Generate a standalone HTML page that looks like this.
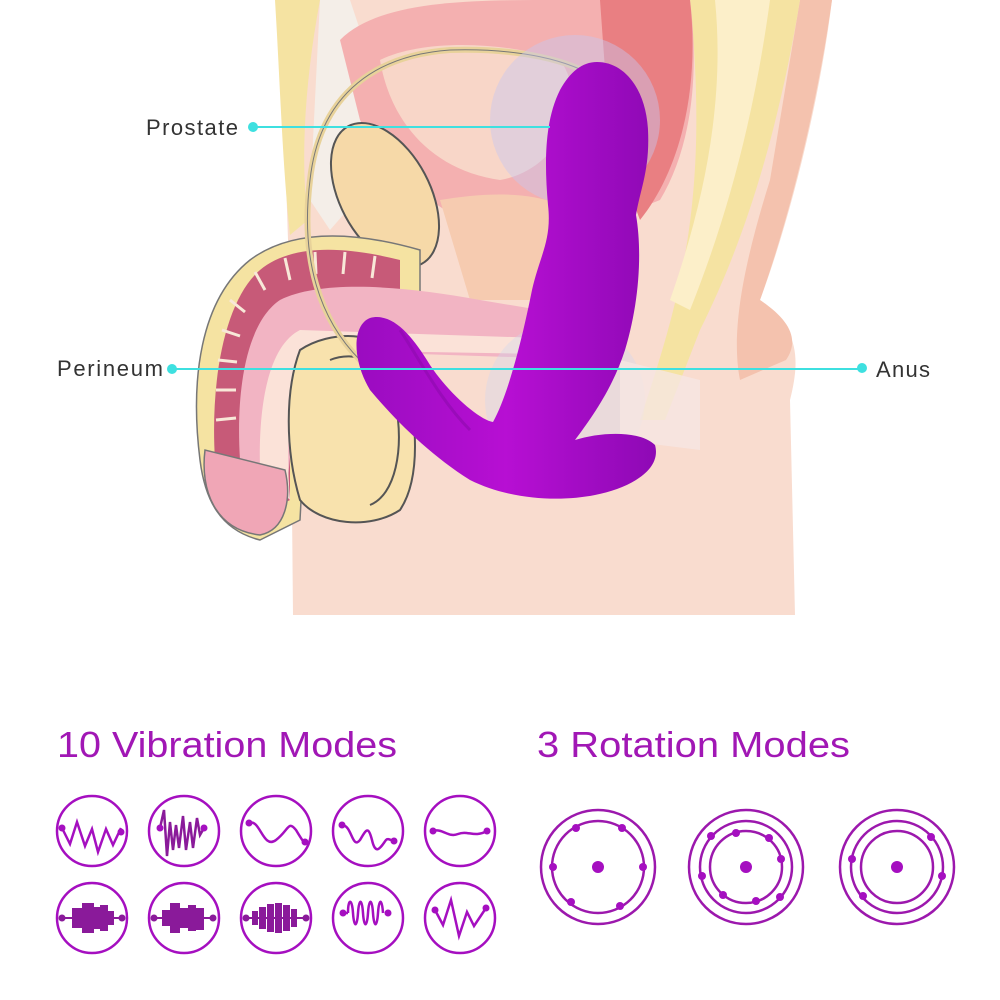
<!DOCTYPE html>
<html><head><meta charset="utf-8"><style>
html,body{margin:0;padding:0;background:#fff;}
svg{display:block}
text{font-family:"Liberation Sans",sans-serif}
</style></head><body>
<svg width="1000" height="1000" viewBox="0 0 1000 1000" xmlns="http://www.w3.org/2000/svg">
<!-- body skin -->
<path d="M275 0 L832 0 C820 100 790 220 760 300 C800 330 800 360 790 400 L795 615 L293 615 L290 300 L280 0 Z" fill="#f9dccf"/>
<!-- right back / buttock darker -->
<path d="M800 0 L832 0 C815 120 785 230 760 300 C790 320 800 340 786 360 L740 380 C730 330 745 260 770 180 Z" fill="#f4c2ae"/>
<!-- spine yellow band -->
<path d="M690 0 L800 0 C780 120 750 230 700 330 L665 420 L640 420 C680 300 710 200 690 0 Z" fill="#f5e3a2"/>
<path d="M715 0 L770 0 C755 110 730 210 690 310 L670 300 C705 200 725 100 715 0 Z" fill="#fcefc9"/>
<!-- left yellow band -->
<path d="M275 0 L320 0 C305 80 300 160 308 220 L290 235 C282 160 280 80 275 0 Z" fill="#f5e3a2"/>
<path d="M320 0 L350 0 L400 150 L330 230 L310 200 Z" fill="#f4eee8"/>
<!-- bladder/rectum pink top -->
<path d="M340 40 C380 0 470 0 560 0 L690 0 C700 80 690 150 660 200 L560 240 C480 250 400 190 360 120 Z" fill="#f4b0b0"/>
<path d="M380 60 C420 40 500 40 560 60 C590 100 560 170 500 180 C430 170 390 120 380 60 Z" fill="#f8d6c8"/>
<path d="M600 0 L690 0 C700 90 680 170 640 220 L610 140 Z" fill="#e97f82"/>
<!-- seminal vesicle -->
<ellipse cx="385" cy="195" rx="45" ry="78" transform="rotate(-28 385 195)" fill="#f6d9a8" stroke="#555" stroke-width="2"/>
<!-- prostate tissue -->
<path d="M440 200 C500 190 560 190 600 230 L590 300 L470 300 Z" fill="#f6cbb0"/>
<!-- penis shaft -->
<path d="M200 460 C190 380 200 300 250 260 C290 230 350 230 420 250 L420 330 L310 330 L300 520 L260 540 C220 530 205 500 200 460 Z" fill="#f5e3a2" stroke="#777" stroke-width="1.5"/>
<path d="M215 460 C210 380 225 300 260 270 C290 245 340 245 400 260 L400 320 L290 320 L290 500 L250 520 Z" fill="#c75a78"/>
<g stroke="#f8e8d8" stroke-width="3">
<line x1="230" y1="300" x2="245" y2="312"/><line x1="222" y1="330" x2="240" y2="336"/><line x1="218" y1="360" x2="237" y2="362"/><line x1="216" y1="390" x2="236" y2="390"/><line x1="216" y1="420" x2="236" y2="418"/>
<line x1="255" y1="272" x2="265" y2="290"/><line x1="285" y1="258" x2="290" y2="280"/><line x1="315" y1="252" x2="316" y2="274"/><line x1="345" y1="252" x2="343" y2="274"/><line x1="375" y1="256" x2="372" y2="278"/>
</g>
<path d="M240 460 C235 380 250 320 280 300 C320 280 400 285 480 300 L600 320 L600 360 L300 350 L285 510 Z" fill="#f2b4c3"/>
<path d="M260 470 C258 400 270 345 300 330 L600 340 L600 355 L310 350 C290 380 285 440 290 500 Z" fill="#fbe2d8"/>
<!-- glans -->
<path d="M205 450 C200 490 215 530 260 535 C285 530 292 500 285 470 Z" fill="#f0a6b6" stroke="#777" stroke-width="1.5"/>
<!-- testicle -->
<path d="M300 350 C330 330 380 330 400 360 C420 420 420 480 400 510 C370 530 320 525 300 500 C285 450 285 390 300 350 Z" fill="#f8e2ad" stroke="#555" stroke-width="2"/>
<path d="M330 360 C355 350 385 360 395 400 C405 450 395 495 370 505" fill="none" stroke="#555" stroke-width="2"/>
<!-- vas deferens loop -->
<path d="M360 360 C320 320 300 260 310 180 C320 90 380 55 450 50 C520 48 570 60 600 80" fill="none" stroke="#e8d29a" stroke-width="6"/>
<path d="M360 360 C320 320 300 260 310 180 C320 90 380 55 450 50 C520 48 570 60 600 80" fill="none" stroke="#777" stroke-width="1"/>
<!-- blue ghost circles -->
<circle cx="575" cy="120" r="85" fill="#c8c8ef" opacity="0.45"/>
<circle cx="565" cy="400" r="80" fill="#cdd6f2" opacity="0.35"/>
<!-- fade near anus -->
<path d="M620 360 L700 380 L700 450 L620 440 Z" fill="#f6e6e2" opacity="0.8"/>
<!-- device -->
<defs><linearGradient id="g" x1="0" x2="1" y1="0" y2="0"><stop offset="0" stop-color="#9a0cc0"/><stop offset="0.5" stop-color="#b70fd3"/><stop offset="1" stop-color="#8e09b5"/></linearGradient></defs>
<path d="M597 62 C625 62 646 90 648 130 C650 170 640 190 636 215 C642 250 640 300 625 350 C612 390 590 420 575 440 C600 432 640 430 655 445 C662 470 630 488 595 495 C560 502 510 500 470 480 C430 455 395 420 370 390 C352 360 352 325 370 318 C392 312 412 335 430 365 C450 395 480 420 493 422 C508 395 522 340 532 290 C540 255 552 240 548 205 C544 160 545 120 560 90 C570 72 582 62 597 62 Z" fill="url(#g)"/>
<path d="M400 330 C420 360 440 400 470 430" fill="none" stroke="#8e0aae" stroke-width="3" opacity="0.6"/>
<!-- leader lines -->
<line x1="253" y1="127" x2="550" y2="127" stroke="#3ee0e0" stroke-width="2"/>
<circle cx="253" cy="127" r="5" fill="#3ee0e0"/>
<line x1="172" y1="369" x2="862" y2="369" stroke="#3ee0e0" stroke-width="2"/>
<circle cx="172" cy="369" r="5" fill="#3ee0e0"/>
<circle cx="862" cy="368" r="5" fill="#3ee0e0"/>
<text x="146" y="135" font-size="22" fill="#333" textLength="92">Prostate</text>
<text x="57" y="376" font-size="22" fill="#333" textLength="106">Perineum</text>
<text x="876" y="377" font-size="22" fill="#333" textLength="54">Anus</text>
<!-- headings -->
<text x="57" y="757" font-size="36" fill="#a117b5" textLength="340" lengthAdjust="spacingAndGlyphs">10 Vibration Modes</text>
<text x="537" y="757" font-size="36" fill="#a117b5" textLength="313" lengthAdjust="spacingAndGlyphs">3 Rotation Modes</text>
<!-- vibration icons -->
<g fill="none" stroke="#a50fc0" stroke-width="2.5">
<circle cx="92" cy="831" r="35"/><circle cx="184" cy="831" r="35"/><circle cx="276" cy="831" r="35"/><circle cx="368" cy="831" r="35"/><circle cx="460" cy="831" r="35"/>
<circle cx="92" cy="918" r="35"/><circle cx="184" cy="918" r="35"/><circle cx="276" cy="918" r="35"/><circle cx="368" cy="918" r="35"/><circle cx="460" cy="918" r="35"/>
<polyline points="62,828 70,844 77,822 85,846 92,829 98,852 106,829 113,845 121,828"/>
<polyline points="160,828 164,810 167,856 170,822 173,850 176,825 179,848 183,816 186,850 190,822 193,848 197,818 200,835 204,828" stroke="#8a1a9a"/>
<path d="M249 823 C260 818 263 850 276 840 C289 830 288 820 296 830 C302 840 304 843 305 842"/>
<path d="M342 825 C352 825 352 850 360 840 C366 830 368 825 372 840 C376 858 382 845 386 840 C388 838 390 840 394 841"/>
<path d="M433 831 C443 828 448 838 458 834 C468 830 474 838 487 831"/>
<path d="M343 913 L348 913 M348 913 c0 -15 4 -15 5 0 c1 15 4 15 5 0 c1 -15 4 -15 5 0 c1 15 4 15 5 0 c1 -15 4 -15 5 0 c1 15 4 15 5 0 c1 -15 4 -15 5 0"/>
<polyline points="435,910 443,925 451,900 459,936 467,912 474,926 486,908"/>
</g>
<g fill="#a50fc0">
<circle cx="62" cy="828" r="3.5"/><circle cx="121" cy="832" r="3.5"/>
<circle cx="160" cy="828" r="3.5"/><circle cx="204" cy="828" r="3.5"/>
<circle cx="249" cy="823" r="3.5"/><circle cx="305" cy="842" r="3.5"/>
<circle cx="342" cy="825" r="3.5"/><circle cx="394" cy="841" r="3.5"/>
<circle cx="433" cy="831" r="3.5"/><circle cx="487" cy="831" r="3.5"/>
<circle cx="343" cy="913" r="3.5"/><circle cx="388" cy="913" r="3.5"/>
<circle cx="435" cy="910" r="3.5"/><circle cx="486" cy="908" r="3.5"/>
</g>
<g fill="#8a1a9a">
<rect x="60" y="917" width="64" height="2"/><circle cx="62" cy="918" r="3.5"/><circle cx="122" cy="918" r="3.5"/>
<rect x="72" y="908" width="10" height="20"/><rect x="82" y="903" width="12" height="30"/><rect x="94" y="907" width="6" height="22"/><rect x="100" y="905" width="8" height="26"/><rect x="108" y="911" width="6" height="14"/>
<rect x="152" y="917" width="64" height="2"/><circle cx="154" cy="918" r="3.5"/><circle cx="213" cy="918" r="3.5"/>
<rect x="162" y="910" width="8" height="16"/><rect x="170" y="903" width="10" height="30"/><rect x="180" y="908" width="8" height="20"/><rect x="188" y="905" width="8" height="26"/><rect x="196" y="908" width="8" height="22"/>
<rect x="244" y="917" width="64" height="2"/><circle cx="246" cy="918" r="3.5"/><circle cx="306" cy="918" r="3.5"/>
<rect x="252" y="911" width="6" height="14"/><rect x="259" y="907" width="7" height="22"/><rect x="267" y="904" width="7" height="28"/><rect x="275" y="903" width="7" height="30"/><rect x="283" y="905" width="7" height="26"/><rect x="291" y="909" width="6" height="18"/>
</g>
<!-- rotation icons -->
<g fill="none" stroke="#9c18ad" stroke-width="2.5">
<circle cx="598" cy="867" r="57"/><circle cx="598" cy="867" r="46"/>
<circle cx="746" cy="867" r="57"/><circle cx="746" cy="867" r="46"/><circle cx="746" cy="867" r="36"/>
<circle cx="897" cy="867" r="57"/><circle cx="897" cy="867" r="46"/><circle cx="897" cy="867" r="36"/>
</g>
<g fill="#a50fc0">
<circle cx="598" cy="867" r="6"/><circle cx="746" cy="867" r="6"/><circle cx="897" cy="867" r="6"/>
<circle cx="576" cy="828" r="4"/><circle cx="622" cy="828" r="4"/><circle cx="553" cy="867" r="4"/><circle cx="643" cy="867" r="4"/><circle cx="571" cy="902" r="4"/><circle cx="620" cy="906" r="4"/>
<circle cx="711" cy="836" r="4"/><circle cx="702" cy="876" r="4"/><circle cx="781" cy="859" r="4"/><circle cx="780" cy="897" r="4"/>
<circle cx="736" cy="833" r="4"/><circle cx="769" cy="838" r="4"/><circle cx="723" cy="895" r="4"/><circle cx="756" cy="901" r="4"/>
<circle cx="852" cy="859" r="4"/><circle cx="942" cy="876" r="4"/><circle cx="863" cy="896" r="4"/><circle cx="931" cy="837" r="4"/>
</g>
</svg>
</body></html>
